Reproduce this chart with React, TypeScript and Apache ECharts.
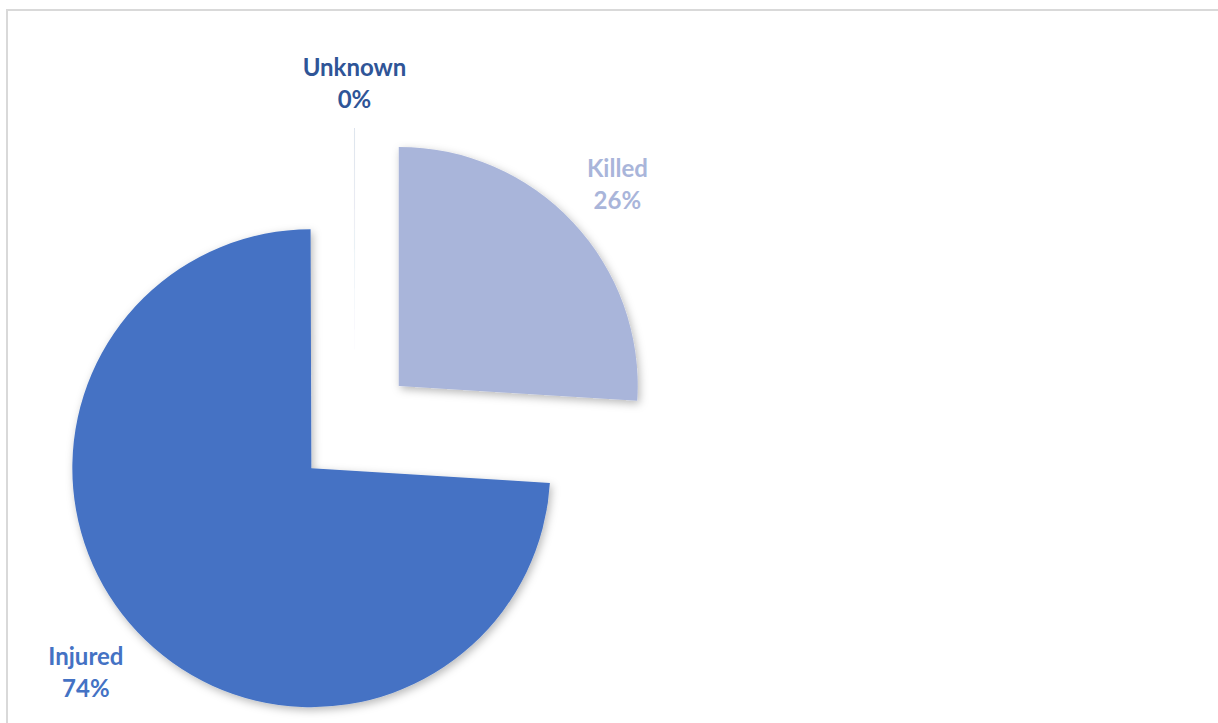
import React, { useEffect, useRef } from "react";
import * as echarts from "echarts";

const categories = ["Killed", "Injured", "Unknown"];
const values = [26, 74, 0.05];
const sliceColors = ["#A9B5DA", "#4472C4", "rgba(47,85,151,0.22)"];
const labelColors = ["#A9B5DA", "#4472C4", "#2F5597"];

const CENTER = [355, 427];
const RADIUS = 239;
const OFFSET = 60;
const GAP = 22;
const FONT_SIZE = 24;
const LINE_HEIGHT = 32;
const FONT_FAMILY = "Lato, 'Open Sans', sans-serif";

export default function App() {
  const ref = useRef<HTMLDivElement>(null);
  useEffect(() => {
    if (!ref.current) return;
    const chart = echarts.init(ref.current, null, { renderer: "svg" });
    const total = values.reduce((a, b) => a + b, 0);
    const ctx = document.createElement("canvas").getContext("2d");
    if (ctx) ctx.font = `bold ${FONT_SIZE}px ${FONT_FAMILY}`;

    const labels: any[] = [];
    let acc = 0;
    values.forEach((v, i) => {
      const a0 = (acc / total) * Math.PI * 2;
      acc += v;
      const a1 = (acc / total) * Math.PI * 2;
      const th = (a0 + a1) / 2;
      const s = Math.sin(th);
      const c = -Math.cos(th);
      const lines = [categories[i], `${Math.round((v / total) * 100)}%`];
      const w =
        Math.max(...lines.map((t) => (ctx ? ctx.measureText(t).width : t.length * 13))) / 2;
      const h = (lines.length * LINE_HEIGHT) / 2 - 8;
      const d = OFFSET + RADIUS + GAP;
      const x = CENTER[0] + d * s + (Math.abs(s) > 0.2 ? Math.sign(s) * (w - 2) : 0);
      const y = CENTER[1] + d * c + (Math.abs(c) > 0.2 ? Math.sign(c) * h : 0);
      labels.push({
        type: "text",
        x,
        y,
        silent: true,
        style: {
          text: lines.join("\n"),
          fill: labelColors[i],
          font: `bold ${FONT_SIZE}px ${FONT_FAMILY}`,
          lineHeight: LINE_HEIGHT,
          align: "center",
          verticalAlign: "middle",
        },
      });
    });

    const data = categories.map((name, i) => ({
      name,
      value: values[i],
      selected: true,
      itemStyle: { color: sliceColors[i] },
    }));
    chart.setOption({
      animation: false,
      backgroundColor: "#ffffff",
      graphic: [
        {
          type: "rect",
          shape: { x: 7, y: 10, width: 1300, height: 800 },
          style: { fill: "none", stroke: "#D9D9D9", lineWidth: 2 },
          silent: true,
        },
        ...labels,
      ],
      series: [
        {
          type: "pie",
          center: CENTER,
          radius: RADIUS,
          startAngle: 90,
          clockwise: true,
          selectedMode: "multiple",
          selectedOffset: OFFSET,
          emphasis: { disabled: true },
          select: { itemStyle: { borderWidth: 0 } },
          itemStyle: {
            shadowBlur: 9,
            shadowColor: "rgba(0,0,0,0.28)",
            shadowOffsetX: 2,
            shadowOffsetY: 3,
          },
          label: { show: false },
          labelLine: { show: false },
          data,
        },
      ],
    });
    return () => chart.dispose();
  }, []);
  return (
    <div
      ref={ref}
      style={{ position: "absolute", left: 0, top: 0, width: 1218, height: 723 }}
    />
  );
}
